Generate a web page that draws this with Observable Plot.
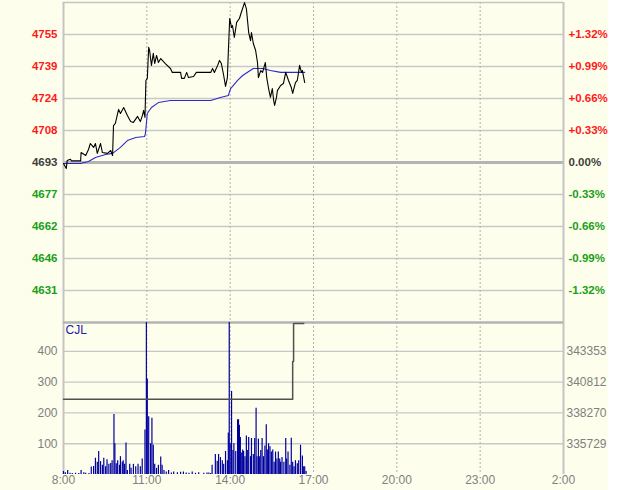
<!DOCTYPE html>
<html><head><meta charset="utf-8">
<script src="https://cdn.jsdelivr.net/npm/d3@7"></script>
<script src="https://cdn.jsdelivr.net/npm/@observablehq/plot@0.6"></script>
<style>
body{margin:0;background:#ffffff;}
#chart svg{display:block;}
</style>
</head><body><div id="chart"></div>
<script>
// ---- data ----
const basePrice = 4693;
const pctSteps = [1.32, 0.99, 0.66, 0.33, 0, -0.33, -0.66, -0.99, -1.32];
const priceLabels = ["4755","4739","4724","4708","4693","4677","4662","4646","4631"];
const pctLabels = ["+1.32%","+0.99%","+0.66%","+0.33%","0.00%","-0.33%","-0.66%","-0.99%","-1.32%"];
const timeLabels = ["8:00","11:00","14:00","17:00","20:00","23:00","2:00"];
const volTicks = [100, 200, 300, 400];
const oiLabels = ["335729","338270","340812","343353"];

const priceSeries = [["8:00",4692.5],["8:06",4690.1],["8:08",4694.0],["8:15",4694.6],["8:17",4693.8],["8:37",4693.8],["8:38",4697.8],["8:48",4696.4],["8:54",4699.3],["8:58",4702.2],["9:05",4700.3],["9:09",4702.2],["9:13",4697.4],["9:20",4702.2],["9:24",4697.8],["9:35",4697.4],["9:42",4698.8],["9:46",4696.4],["9:48",4710.9],["9:52",4711.9],["9:59",4718.7],["10:03",4716.7],["10:10",4719.6],["10:18",4715.7],["10:25",4712.8],["10:31",4712.4],["10:40",4715.3],["10:46",4712.8],["10:51",4716.2],["10:53",4718.2],["10:56",4714.8],["10:58",4732.7],["11:01",4733.7],["11:04",4748.7],["11:06",4747.2],["11:10",4740.0],["11:14",4745.8],["11:17",4740.9],["11:21",4744.8],["11:25",4741.4],["11:30",4743.3],["11:40",4740.9],["11:51",4738.5],["11:55",4736.6],["12:13",4736.6],["12:15",4733.7],["12:21",4733.7],["12:26",4736.6],["12:30",4734.1],["12:41",4734.6],["12:47",4736.6],["13:18",4736.6],["13:22",4738.5],["13:26",4736.6],["13:33",4740.0],["13:37",4742.4],["13:41",4740.9],["13:46",4735.1],["13:50",4729.8],["13:54",4734.1],["13:56",4746.2],["13:59",4762.7],["14:03",4758.3],["14:05",4759.3],["14:09",4753.5],["14:14",4760.8],["14:20",4762.7],["14:24",4765.6],["14:31",4770.4],["14:35",4767.5],["14:40",4755.9],["14:44",4752.0],["14:46",4755.9],["14:50",4750.6],["14:55",4747.2],["14:59",4741.4],["15:01",4734.1],["15:06",4737.5],["15:10",4736.6],["15:16",4741.4],["15:19",4734.1],["15:23",4728.8],["15:27",4724.5],["15:31",4728.8],["15:34",4723.0],["15:36",4720.6],["15:40",4724.5],["15:42",4727.8],["15:49",4730.3],["15:55",4731.2],["16:00",4736.6],["16:06",4732.7],["16:12",4729.3],["16:15",4726.4],["16:21",4731.7],["16:25",4732.7],["16:30",4740.0],["16:34",4736.6],["16:36",4737.5],["16:41",4731.7]];

const avgSeries = [["8:00",4692.5],["8:37",4692.5],["8:54",4693.5],["9:09",4695.4],["9:31",4696.9],["9:46",4697.4],["10:03",4700.3],["10:18",4703.6],["10:36",4705.1],["10:55",4705.6],["10:57",4707.0],["11:01",4716.7],["11:10",4719.6],["11:25",4722.0],["11:51",4723.0],["13:18",4723.0],["13:39",4724.5],["13:56",4725.4],["14:01",4728.8],["14:07",4730.3],["14:16",4732.7],["14:27",4735.1],["14:40",4737.0],["14:50",4738.5],["15:10",4738.5],["15:27",4737.5],["15:49",4736.6],["16:41",4736.6]];

const volSeries = [["8:00",10],["8:04",6],["8:09",13],["8:14",4],["8:19",3],["8:26",4],["8:33",3],["8:38",13],["8:44",6],["8:48",4],["8:55",3],["9:00",24],["9:05",26],["9:09",53],["9:13",40],["9:16",75],["9:20",42],["9:24",30],["9:27",53],["9:31",25],["9:34",48],["9:38",33],["9:42",36],["9:45",45],["9:49",195],["9:51",100],["9:54",35],["9:57",45],["10:01",30],["10:03",58],["10:07",40],["10:09",45],["10:12",33],["10:15",102],["10:18",13],["10:23",33],["10:26",20],["10:31",33],["10:36",25],["10:41",33],["10:46",25],["10:50",50],["10:56",145],["10:59",494],["11:01",310],["11:04",188],["11:08",100],["11:11",183],["11:14",95],["11:17",33],["11:21",20],["11:25",30],["11:30",57],["11:33",30],["11:37",13],["11:42",8],["11:47",13],["11:53",5],["11:58",8],["12:06",6],["12:13",7],["12:19",8],["12:25",5],["12:31",4],["12:38",8],["12:45",4],["12:52",6],["13:03",4],["13:10",5],["13:14",5],["13:18",3],["13:21",30],["13:28",65],["13:32",43],["13:35",65],["13:39",55],["13:43",45],["13:46",33],["13:50",75],["13:54",45],["13:56",135],["13:58",494],["14:00",100],["14:03",270],["14:06",78],["14:08",100],["14:12",75],["14:16",178],["14:18",178],["14:20",160],["14:22",120],["14:24",70],["14:27",80],["14:29",75],["14:32",58],["14:35",125],["14:37",78],["14:40",120],["14:44",58],["14:46",117],["14:50",65],["14:53",117],["14:56",215],["14:58",58],["15:01",115],["15:03",58],["15:06",78],["15:09",117],["15:12",58],["15:15",93],["15:18",162],["15:21",80],["15:23",100],["15:26",90],["15:29",73],["15:32",80],["15:35",40],["15:38",73],["15:41",50],["15:44",73],["15:47",50],["15:49",40],["15:52",55],["15:56",40],["16:00",117],["16:02",50],["16:05",73],["16:09",30],["16:12",118],["16:15",40],["16:18",25],["16:21",45],["16:25",35],["16:28",45],["16:32",95],["16:36",60],["16:38",25],["16:41",25],["16:44",10]];

const oiSeries = [["8:00",339405],["16:15",342520],["16:17",345668],["16:39",345668]];

// ---- helpers ----
function parseT(s){
  const [h,m] = s.split(":").map(Number);
  const hh = h < 8 ? h + 24 : h;
  return new Date(Date.UTC(2024,0,1) + (hh*60 + m)*60000);
}
const BG = "#fefeec";
const FONT = "'Liberation Sans', Arial, sans-serif";
const W = 608, ML = 63, MR = 45;
const t0 = parseT(timeLabels[0]), t1 = parseT(timeLabels[timeLabels.length-1]);
const timeTicks = timeLabels.map(l => ({t: parseT(l), label: l}));
const innerTimes = timeTicks.slice(1, -1).map(d => d.t);

const price = priceSeries.map(([t,v]) => ({t: parseT(t), v}));
const avg = avgSeries.map(([t,v]) => ({t: parseT(t), v}));
const vol = volSeries.map(([t,v]) => ({t: parseT(t), v}));

const pTicks = pctSteps.map((p,i) => ({pos: basePrice*(1+p/100), p, label: priceLabels[i], pct: pctLabels[i]}));
const yLo = basePrice*(1-0.0165), yHi = basePrice*(1+0.0165);

const RED = "#ff1a1a", GREEN = "#18a018", DARK = "#404040";
function labelMarks(filter, fill){
  const d = pTicks.filter(filter);
  return [
    Plot.text(d, {y: "pos", text: "label", frameAnchor: "left", textAnchor: "end", dx: -6, fill, fontWeight: "bold", fontSize: 11.5}),
    Plot.text(d, {y: "pos", text: "pct", frameAnchor: "right", textAnchor: "start", dx: 5, fill, fontWeight: "bold", fontSize: 11.5})
  ];
}

const topPlot = Plot.plot({
  width: W, height: 322, marginLeft: ML, marginRight: MR, marginTop: 2, marginBottom: 0,
  style: {background: BG, overflow: "visible", fontFamily: FONT},
  x: {type: "utc", domain: [t0, t1], axis: null},
  y: {domain: [yLo, yHi], axis: null},
  marks: [
    Plot.ruleY(pTicks.filter(d => d.p !== 0), {y: "pos", stroke: "#c8c8c8", strokeWidth: 1.3}),
    Plot.ruleX(innerTimes, {stroke: "#b0b0b0", strokeDasharray: "2,2"}),
    Plot.ruleY([basePrice], {stroke: "#b4b4b4", strokeWidth: 3}),
    Plot.ruleY([yHi], {stroke: "#c4c4c4", strokeWidth: 1.5}),
    Plot.ruleX([t0, t1], {stroke: "#c4c4c4", strokeWidth: 2}),
    Plot.line(avg, {x: "t", y: "v", stroke: "#2a2acc", strokeWidth: 1.1}),
    Plot.line(price, {x: "t", y: "v", stroke: "#000000", strokeWidth: 1.1}),
    ...labelMarks(d => d.p > 0, RED),
    ...labelMarks(d => d.p === 0, DARK),
    ...labelMarks(d => d.p < 0, GREEN)
  ]
});

// open interest mapped onto volume axis via its tick labels
const oiLo = +oiLabels[0], oiHi = +oiLabels[oiLabels.length-1];
const oiPerUnit = (oiHi - oiLo) / (volTicks[volTicks.length-1] - volTicks[0]);
const oiBase = oiLo - volTicks[0]*oiPerUnit;
const oi = oiSeries.map(([t,v]) => ({t: parseT(t), y: (v - oiBase)/oiPerUnit}));
const oiTicks = volTicks.map((v,i) => ({v, label: oiLabels[i]}));
const volMax = 494;

const botPlot = Plot.plot({
  width: W, height: 168, marginLeft: ML, marginRight: MR, marginTop: 0, marginBottom: 16,
  style: {background: BG, overflow: "visible", fontFamily: FONT},
  x: {type: "utc", domain: [t0, t1], axis: null},
  y: {domain: [0, volMax], axis: null},
  marks: [
    Plot.ruleY(volTicks, {stroke: "#c8c8c8", strokeWidth: 1.3}),
    Plot.ruleX(innerTimes, {stroke: "#b0b0b0", strokeDasharray: "2,2"}),
    Plot.ruleX([t0, t1], {stroke: "#c4c4c4", strokeWidth: 2}),
    Plot.ruleY([volMax], {stroke: "#b4b4b4", strokeWidth: 2.5}),
    Plot.ruleX(vol, {x: "t", y1: 0, y2: "v", stroke: "#0000a0", strokeWidth: 1.2}),
    Plot.line(oi, {x: "t", y: "y", curve: "step-after", stroke: "#505050", strokeWidth: 1.5}),
    Plot.text(volTicks, {y: d => d, text: d => String(d), frameAnchor: "left", textAnchor: "end", dx: -6, fill: "#808080", fontSize: 12}),
    Plot.text(oiTicks, {y: "v", text: "label", frameAnchor: "right", textAnchor: "start", dx: 3, fill: "#808080", fontSize: 12}),
    Plot.text(timeTicks, {x: "t", text: "label", frameAnchor: "bottom", dy: 9, fill: "#808080", fontSize: 12}),
    Plot.text(["CJL"], {frameAnchor: "top-left", dx: 2, dy: 3, text: d => d, fill: "#2020a8", fontSize: 12, textAnchor: "start", lineAnchor: "top"})
  ]
});

const root = document.getElementById("chart");
root.appendChild(topPlot);
root.appendChild(botPlot);
</script>
</body></html>
